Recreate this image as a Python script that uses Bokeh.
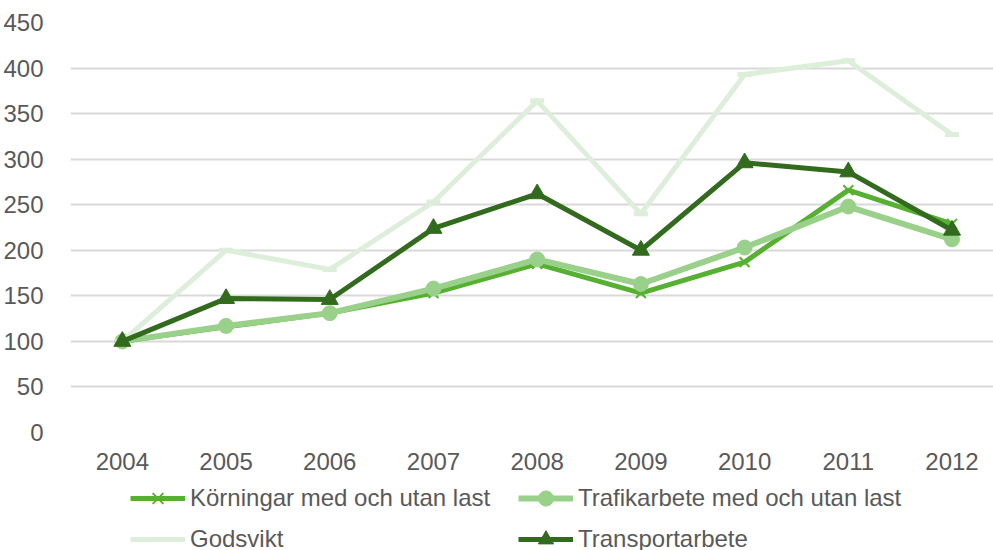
from bokeh.plotting import figure
from bokeh.layouts import column
from bokeh.models import Range1d, FixedTicker, Legend, LegendItem, ColumnDataSource
from bokeh.embed import file_html
from bokeh.resources import INLINE

years = [2004, 2005, 2006, 2007, 2008, 2009, 2010, 2011, 2012]
korningar = [100, 116, 131, 153, 185, 153, 187, 266, 229]
trafikarbete = [100, 117, 131, 158, 190, 163, 203, 248, 212]
godsvikt = [100, 200, 179, 253, 364, 240, 393, 408, 327]
transportarbete = [100, 147, 146, 224, 262, 200, 296, 286, 222]
y_ticks = [0, 50, 100, 150, 200, 250, 300, 350, 400, 450]

names = ["Körningar med och utan last", "Trafikarbete med och utan last",
         "Godsvikt", "Transportarbete"]
colors = ["#56B031", "#99D18A", "#DDEEDA", "#336B1E"]

FONT = "Liberation Sans"
TXT = "#595959"

p = figure(width=993, height=478, output_backend="svg", toolbar_location=None,
           x_range=Range1d(2003.5, 2012.4), y_range=Range1d(0, 450),
           min_border_left=70, min_border_right=0, min_border_top=22,
           min_border_bottom=46)
p.outline_line_color = None
p.background_fill_color = "white"
p.border_fill_color = "white"

p.xaxis.ticker = FixedTicker(ticks=years)
p.yaxis.ticker = FixedTicker(ticks=y_ticks)
p.xgrid.visible = False
p.ygrid.grid_line_color = "#D9D9D9"
p.ygrid.grid_line_width = 2
for ax in (p.xaxis[0], p.yaxis[0]):
    ax.axis_line_color = None
    ax.major_tick_line_color = None
    ax.minor_tick_line_color = None
    ax.major_label_text_font = FONT
    ax.major_label_text_font_size = "24px"
    ax.major_label_text_color = TXT
p.xaxis.major_label_standoff = 14
p.yaxis.major_label_standoff = 21

src = ColumnDataSource(dict(x=years, k=korningar, t=trafikarbete,
                            g=godsvikt, tr=transportarbete))

def add_series(fig, source):
    r1 = fig.line("x", "k", source=source, line_color=colors[0], line_width=5)
    m1 = fig.scatter("x", "k", source=source, marker="x", size=14, line_color=colors[0], line_width=2)
    r2 = fig.line("x", "t", source=source, line_color=colors[1], line_width=6)
    m2 = fig.scatter("x", "t", source=source, marker="circle", size=15, fill_color=colors[1], line_color=colors[1])
    r3 = fig.line("x", "g", source=source, line_color=colors[2], line_width=5)
    m3 = fig.scatter("x", "g", source=source, marker="dash", size=14, line_color=colors[2], line_width=5)
    r4 = fig.line("x", "tr", source=source, line_color=colors[3], line_width=5)
    m4 = fig.scatter("x", "tr", source=source, marker="triangle", size=17, fill_color=colors[3], line_color=colors[3])
    return (r1, m1), (r2, m2), (r3,), (r4, m4)

add_series(p, src)

# legend panel below the chart (its renderers lie outside its ranges, so only the legend shows)
lf = figure(width=993, height=72, output_backend="svg", toolbar_location=None,
            x_range=Range1d(0, 1), y_range=Range1d(0, 1),
            x_axis_location=None, y_axis_location=None, min_border=0)
lf.outline_line_color = None
lf.grid.visible = False
s1, s2, s3, s4 = add_series(lf, src)

items = [
    LegendItem(label=names[0], renderers=list(s1)),
    LegendItem(label=names[2], renderers=list(s3)),
    LegendItem(label=names[1], renderers=list(s2)),
    LegendItem(label=names[3], renderers=list(s4)),
]
legend = Legend(items=items, ncols=2, location=(60, -9),
                glyph_width=55, glyph_height=38, label_standoff=5,
                label_width=328, label_height=41, spacing=0, padding=0, margin=0,
                label_text_font=FONT, label_text_font_size="24px",
                label_text_color=TXT, border_line_color=None,
                background_fill_alpha=0)
lf.add_layout(legend, "center")

layout = column(p, lf, spacing=0)
open("out.html", "w").write(file_html(layout, INLINE))
